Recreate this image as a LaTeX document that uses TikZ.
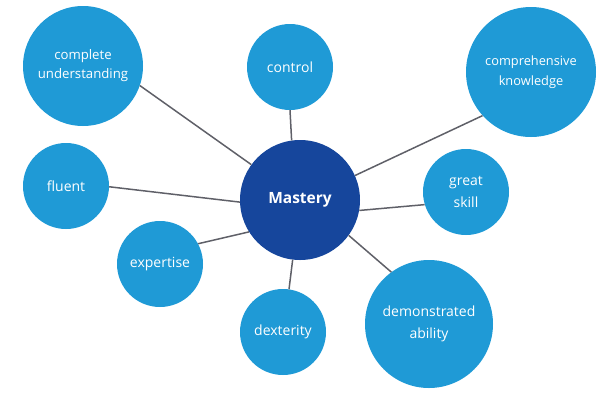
\documentclass[tikz,border=0pt]{standalone}
\usepackage{fontspec}
\setmainfont{Open Sans}
\usepackage{xcolor}
\definecolor{bubble}{HTML}{1F9AD6}
\definecolor{core}{HTML}{16469C}
\definecolor{spoke}{HTML}{5F6068}
\usetikzlibrary{positioning}
\tikzset{
    leaf/.style={circle, draw=none, fill=bubble, text=white, align=center, inner sep=0pt},
    hub/.style={circle, draw=none, fill=core, text=white, align=center, inner sep=0pt, font=\fontsize{15.5}{18}\selectfont\bfseries},
    link/.style={draw=spoke, line width=1.5pt}
}

\begin{document}
\begin{tikzpicture}[
    x=1pt, y=-1pt,
    small_leaf/.style={leaf, minimum size=86pt, font=\fontsize{14}{22}\selectfont},
    big_leaf/.style={leaf, minimum size=128pt}
]
  \useasboundingbox (0,0) rectangle (600,400);

  % Central node
  \node[hub, minimum size=120pt] (mastery) at (300,200) {Mastery};

  % Surrounding nodes
  \node[big_leaf, minimum size=120pt, font=\fontsize{13.2}{19}\selectfont] (underst) at (83,66) {complete\\understanding};
  \node[small_leaf] (control) at (290,67) {control};
  \node[big_leaf, minimum size=130pt, font=\fontsize{12.8}{20}\selectfont] (knowledge) at (531,72) {comprehensive\\knowledge};
  \node[small_leaf] (fluent) at (66,186) {fluent};
  \node[small_leaf] (skill) at (466,192) {great\\skill};
  \node[small_leaf] (expertise) at (160,264) {expertise};
  \node[small_leaf] (dexterity) at (283,332) {dexterity};
  \node[big_leaf, font=\fontsize{14}{22}\selectfont] (ability) at (429,324) {demonstrated\\ability};

  % Spokes
  \draw[link] (mastery.144) -- (underst.-19);
  \draw[link] (mastery.98) -- (control.-90);
  \draw[link] (mastery.24) -- (knowledge.-138);
  \draw[link] (mastery.182) -- (fluent.-1);
  \draw[link] (mastery.-10) -- (skill.197);
  \draw[link] (mastery.212) -- (expertise.28);
  \draw[link] (mastery.-36) -- (ability.126);
  \draw[link] (mastery.263) -- (dexterity.82);

\end{tikzpicture}
\end{document}
